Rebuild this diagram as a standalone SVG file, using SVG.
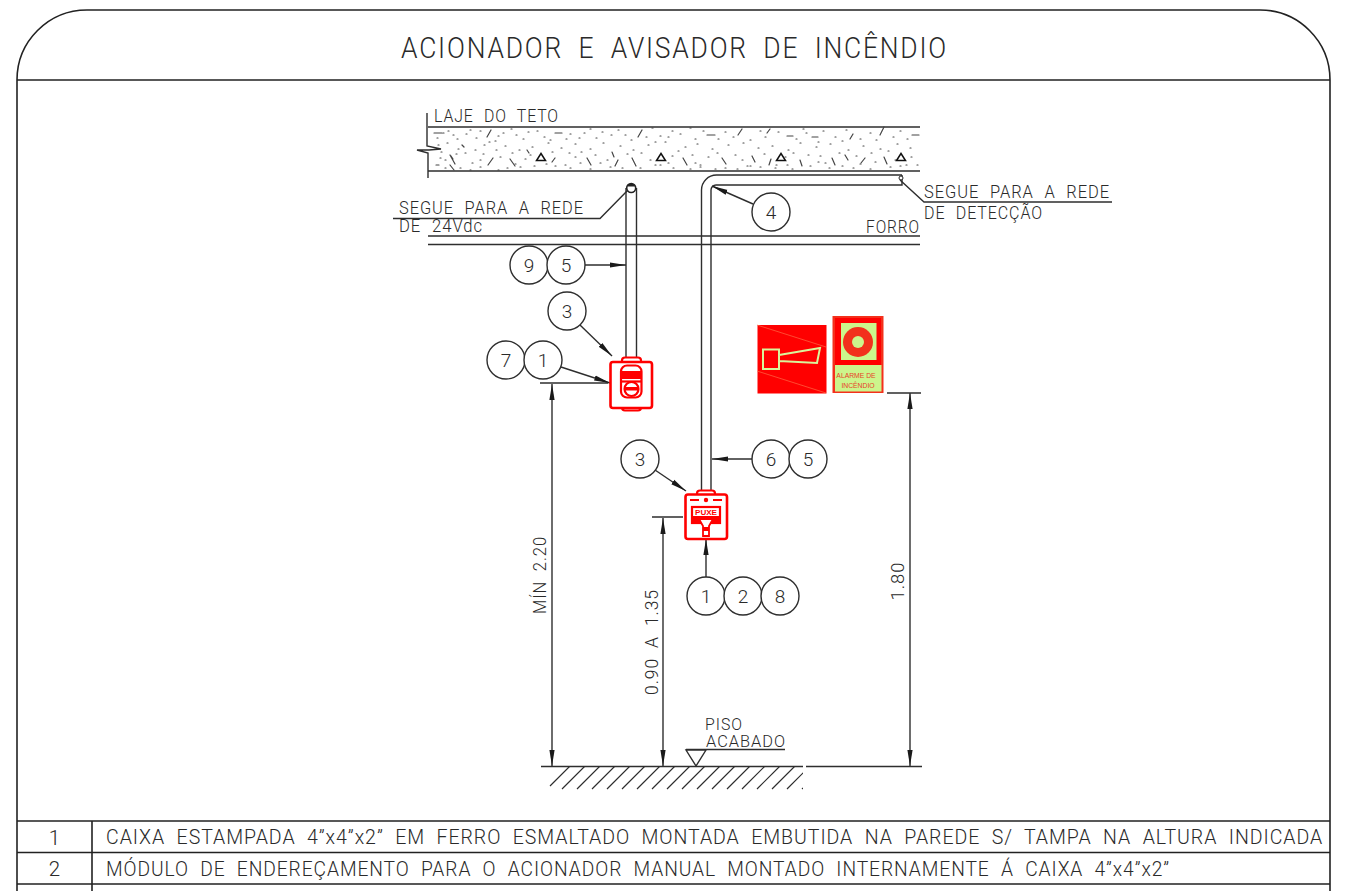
<svg xmlns="http://www.w3.org/2000/svg" width="1352" height="891" viewBox="0 0 1352 891">
<style>
text{font-family:"Roboto","Liberation Sans",Arial,sans-serif;font-weight:300;fill:#2a2a2a}
.l{fill:none;stroke:#2e2e2e;stroke-width:1.4}
.f{fill:none;stroke:#222;stroke-width:1.6}
.t{font-size:17.500px;letter-spacing:1px;word-spacing:6px}
.p{font-size:16.500px;letter-spacing:1px}
.d{font-size:18px;text-anchor:middle;letter-spacing:1px;word-spacing:5px}
.r{font-size:20.500px;letter-spacing:1px;word-spacing:6px}
.c{fill:#fff;stroke:#2e2e2e;stroke-width:1.4}
.n{font-size:19px;text-anchor:middle}
.red{fill:none;stroke:#f00;stroke-width:2.200}
.rf{fill:#f00}
.s{fill:none;stroke:#444;stroke-width:1.200;stroke-linecap:round}
</style>
<defs>
<marker id="a" markerUnits="userSpaceOnUse" markerWidth="18" markerHeight="8" refX="16" refY="4" orient="auto-start-reverse"><path d="M0 1.400L16 4L0 6.600Z" fill="#1a1a1a"/></marker>
<clipPath id="hc"><rect x="541" y="766" width="262" height="24"/></clipPath>
</defs>
<rect width="1352" height="891" fill="#fff"/>
<g id="frame">
<path class="f" d="M17 891V80A70 70 0 0 1 87 10H1260A70 70 0 0 1 1330 80V891M17 80H1330"/>
<text x="401" y="58" font-size="29.500" letter-spacing="2" word-spacing="8" textLength="547" lengthAdjust="spacingAndGlyphs">ACIONADOR E AVISADOR DE INCÊNDIO</text>
</g>
<g id="slab">
<path class="l" stroke-width="1.800" d="M428 127H920M428 171H920"/>
<path class="l" d="M427 113V146L441 149L429 150L417 150L428 153V178"/>
<path class="s" d="M434 133h8M443 133h1M453 135h1M470 130h1M480 131h1M491 130l-4 7M498 136h1M511 129h1M523 139h1M537 131h1M555 133h7M570 134h1M579 138h1M590 129h1M602 132h1M625 135h1M642 130l-4 7M652 128h1M660 136h1M672 131h1M690 128h1M707 135h8M725 132h1M742 129l-4 6M760 131h1M770 129l-3 4M787 136h6M806 133h1M812 137h6M823 131h1M846 130h1M853 134l-3 5M870 133h1M884 127l-4 8M900 131h1M912 135h7M438 145h1M447 143h1M458 149h1M462 145l2 2M475 150h1M489 142h1M505 146h1M519 150h1M532 147h1M548 143h1M561 148h1M575 144h1M590 149h1M603 143h1M620 146h1M633 150h1M648 145h1M665 142h1M685 147h1M697 144h1M712 149h1M728 145h1M743 143h1M758 148h1M772 146h1M788 150h1M800 143h1M816 147h1M830 144h1M848 150h1M863 146h1M880 149h1M897 144h1M910 148h1M445 160h1M451 156l2 3M450 165l4 5M450 155l5 9M480 160h1M488 165l5-7M500 157h1M510 159l5 7M527 150l2 3M555 158l-3 4M565 165h1M575 157h1M587 158l4 7M600 163h1M612 152l2 5M618 160l-3 6M632 158l4 8M650 160h1M672 156h1M683 158l4 7M695 163h1M700 165h1M722 158l4 6M742 160h1M752 156l3 6M771 159l-2 6M785 157h1M800 160l2 6M820 156h1M832 158l3 7M845 155l3 5M865 158l-4 5M875 162h1M884 157l3 7M895 160h1M911 157h1M917 165h1M436 165h3M445 168h1M470 170h1M498 170h1M507 168h1M520 167h1M555 166h1M570 168h1M590 169h1M610 167h1M640 168h1M673 168h1M700 167h1M715 169h1M737 169h1M750 166h1M775 168h1M792 169h1M810 166h1M829 168h1M853 168h1M870 169h1M890 167h1"/>
<path class="s" d="M437 138h1M448 131h1M457 139h1M466 134h1M476 138h1M484 145h1M495 141h1M503 133h1M516 135h1M528 132h1M544 137h1M550 140h1M566 139h1M584 133h1M596 138h1M611 135h1M618 130h1M631 140h1M646 137h1M655 142h1M668 137h1M680 134h1M695 139h1M703 131h1M718 139h1M733 137h1M750 140h1M765 137h1M778 132h1M796 139h1M803 129h1M818 142h1M835 137h1M842 141h1M860 139h1M876 140h1M893 137h1M907 139h1M441 152h1M456 154h1M465 153h1M472 163h1M483 154h1M496 150h1M512 153h1M525 159h1M534 166h1M552 152h1M569 153h1M581 152h1M595 155h1M607 160h1M627 154h1M641 153h1M655 165h1M668 163h1M678 151h1M692 155h1M708 157h1M717 153h1M735 155h1M747 166h1M764 154h1M776 165h1M793 153h1M808 155h1M825 163h1M839 153h1M856 156h1M871 153h1M888 151h1M906 165h1M440 158h1M460 168h1M480 167h1M515 164h1M530 155h1M546 164h1M580 163h1M622 168h1M660 165h1M690 169h1M725 168h1M760 167h1M787 165h1M818 162h1M842 166h1M860 164h1M900 166h1"/>
<path fill="none" stroke="#111" stroke-width="1.500" d="M541 153.500L545.500 160.500H536.500ZM661 153.500L665.500 160.500H656.500ZM781 153.500L785.500 160.500H776.500ZM901 153.500L905.500 160.500H896.500Z"/>
<text class="t" x="434" y="122" textLength="125" lengthAdjust="spacingAndGlyphs">LAJE DO TETO</text>
</g>
<g id="forro">
<path class="l" d="M428 236H920M428 244.500H920"/>
<text class="t" x="866" y="233" textLength="54" lengthAdjust="spacingAndGlyphs">FORRO</text>
</g>
<g id="conduits">
<path class="l" stroke-width="1.600" d="M626 188V358M636.500 188V358"/>
<circle cx="631.200" cy="188" r="4.500" fill="#fff" stroke="#222" stroke-width="1.600"/>
<path d="M627 186.500A4.500 4.500 0 0 1 635.500 186.500Z" fill="#222"/>
<path class="l" stroke-width="1.600" d="M701.500 491V190A15 15 0 0 1 716.500 175H902M711 491V190A5 5 0 0 1 716 185H902V175"/>
<circle cx="901" cy="178" r="2" fill="#fff" stroke="#222"/>
</g>
<g id="connectors">
<path class="l" d="M393 218.500H600L628 190"/>
<path class="l" d="M900 180L924 202H1112"/>
<path class="l" d="M686 749.500H785"/>
<path class="l" marker-end="url(#a)" d="M753 204L712 186"/>
<path class="l" marker-end="url(#a)" d="M585 265H626"/>
<path class="l" marker-end="url(#a)" d="M580 325L612 356"/>
<path class="l" marker-end="url(#a)" d="M561 367L610 383"/>
<path class="l" d="M540 383H608"/>
<path class="l" marker-end="url(#a)" d="M655 470L686 491"/>
<path class="l" marker-end="url(#a)" d="M752 459H712"/>
<path class="l" marker-end="url(#a)" d="M706 577V539"/>
<path class="l" marker-start="url(#a)" marker-end="url(#a)" d="M552 384V766"/>
<path class="l" marker-start="url(#a)" marker-end="url(#a)" d="M663 518V766"/>
<path class="l" marker-start="url(#a)" marker-end="url(#a)" d="M910 393V766"/>
<path class="l" d="M652 517H683M887 393H921"/>
</g>
<g id="ground">
<path class="l" stroke-width="1.600" d="M541 766.500H803M806 766.500H922"/>
<g clip-path="url(#hc)"><path fill="none" stroke="#2e2e2e" stroke-width="1.200" d="M550 786L570 766M562 789L585 766M577 789L600 766M592 789L615 766M607 789L630 766M622 789L645 766M637 789L660 766M652 789L675 766M667 789L690 766M682 789L705 766M697 789L720 766M712 789L735 766M727 789L750 766M742 789L765 766M757 789L780 766M772 789L795 766M787 789L810 766M802 789L803 788"/></g>
<path fill="#fff" stroke="#2e2e2e" stroke-width="1.400" d="M686 750H706L696 766Z"/>
<text class="p" x="705" y="730" textLength="38" lengthAdjust="spacingAndGlyphs">PISO</text>
<text class="p" x="706" y="747" textLength="80" lengthAdjust="spacingAndGlyphs">ACABADO</text>
</g>
<g id="labels">
<text class="t" x="399" y="214" textLength="185" lengthAdjust="spacingAndGlyphs">SEGUE PARA A REDE</text>
<text class="t" x="399" y="232" textLength="84" lengthAdjust="spacingAndGlyphs">DE 24Vdc</text>
<text class="t" x="924" y="198" textLength="186" lengthAdjust="spacingAndGlyphs">SEGUE PARA A REDE</text>
<text class="t" x="924" y="219" textLength="119" lengthAdjust="spacingAndGlyphs">DE DETECÇÃO</text>
<text class="d" transform="translate(546 575) rotate(-90)" textLength="78" lengthAdjust="spacingAndGlyphs">MÍN 2.20</text>
<text class="d" transform="translate(658 642) rotate(-90)" textLength="106" lengthAdjust="spacingAndGlyphs">0.90 A 1.35</text>
<text class="d" transform="translate(904 581) rotate(-90)" textLength="39" lengthAdjust="spacingAndGlyphs">1.80</text>
</g>
<g id="tag-4"><circle class="c" cx="771" cy="212" r="19"/><text class="n" x="771" y="218.500">4</text></g>
<g id="tag-9"><circle class="c" cx="529" cy="265" r="19"/><text class="n" x="529" y="271.500">9</text></g>
<g id="tag-5a"><circle class="c" cx="566" cy="265" r="19"/><text class="n" x="566" y="271.500">5</text></g>
<g id="tag-3a"><circle class="c" cx="567" cy="311" r="19"/><text class="n" x="567" y="317.500">3</text></g>
<g id="tag-7"><circle class="c" cx="506" cy="360" r="19"/><text class="n" x="506" y="366.500">7</text></g>
<g id="tag-1a"><circle class="c" cx="543" cy="360" r="19"/><text class="n" x="543" y="366.500">1</text></g>
<g id="tag-3b"><circle class="c" cx="640" cy="459" r="19"/><text class="n" x="640" y="465.500">3</text></g>
<g id="tag-6"><circle class="c" cx="771" cy="459" r="19"/><text class="n" x="771" y="465.500">6</text></g>
<g id="tag-5b"><circle class="c" cx="808" cy="459" r="19"/><text class="n" x="808" y="465.500">5</text></g>
<g id="tag-1b"><circle class="c" cx="706" cy="596" r="19"/><text class="n" x="706" y="602.500">1</text></g>
<g id="tag-2"><circle class="c" cx="743" cy="596" r="19"/><text class="n" x="743" y="602.500">2</text></g>
<g id="tag-8"><circle class="c" cx="780" cy="596" r="19"/><text class="n" x="780" y="602.500">8</text></g>
<g id="avisador">
<rect class="red" x="622" y="357.500" width="19" height="53" rx="3"/>
<rect x="610.500" y="362" width="41.500" height="46" rx="2.500" fill="#fff" stroke="#f00" stroke-width="2.600"/>
<rect class="red" stroke-width="1.800" x="621" y="365.500" width="20.500" height="32" rx="6"/>
<rect class="rf" x="621" y="371" width="20.500" height="8"/>
<path class="red" stroke-width="1.500" d="M622 381.500H641"/>
<circle class="red" stroke-width="1.800" cx="631.500" cy="389" r="7"/>
<rect class="rf" x="624.500" y="387" width="14" height="3.500"/>
</g>
<g id="acionador">
<rect class="red" x="697" y="490.500" width="18" height="8" rx="3"/>
<rect x="685.500" y="494.500" width="41.500" height="44.500" rx="2.500" fill="#fff" stroke="#f00" stroke-width="2.600"/>
<path class="red" stroke-width="2" d="M690 500H699M713 500H722"/>
<circle class="rf" cx="706" cy="500" r="2.200"/>
<rect class="red" stroke-width="1.800" x="692" y="507" width="28" height="16"/>
<rect class="rf" x="692" y="516" width="28" height="7"/>
<text x="695" y="515" font-size="8" textLength="22" lengthAdjust="spacingAndGlyphs" style="fill:#f00;font-weight:700;font-family:'Liberation Sans',sans-serif">PUXE</text>
<path d="M699 519H713L709 526V536H703V526Z" fill="#fff" stroke="#f00" stroke-width="1.800"/>
<rect class="rf" x="703" y="527" width="6" height="4"/>
</g>
<g id="placa-avisador">
<rect x="757.500" y="325" width="69" height="68.500" fill="#f00"/>
<path fill="none" stroke="#ff7a50" stroke-width="0.600" d="M757 325L826 347M757 371L826 393"/>
<path d="M763 349.500H779V369H763ZM779 355L820 348L817 363L779 361" fill="none" stroke="#d9f59b" stroke-width="2"/>
</g>
<g id="placa-alarme">
<rect x="832.500" y="316" width="51" height="77" fill="#f4301c"/>
<rect x="835" y="318" width="46" height="47" fill="#f00"/>
<rect x="835" y="365" width="46.500" height="26.500" fill="#ccf58c"/>
<rect x="841" y="323" width="35.500" height="37" fill="#ccf58c"/>
<circle cx="858" cy="342" r="15" fill="#f2301c"/>
<circle cx="858" cy="342" r="6" fill="#ccf58c"/>
<text x="856" y="378" font-size="6.800" text-anchor="middle" style="fill:#e8402a;font-family:'Liberation Sans',sans-serif;font-weight:400">ALARME DE</text>
<text x="858" y="388" font-size="6.800" text-anchor="middle" style="fill:#e8402a;font-family:'Liberation Sans',sans-serif;font-weight:400">INCÊNDIO</text>
</g>
<g id="table">
<path class="f" stroke-width="1.300" d="M17 821H1330M17 852.500H1330M17 884H1330M92 821V891"/>
<text class="r" x="55" y="845" text-anchor="middle">1</text>
<text class="r" x="55" y="876" text-anchor="middle">2</text>
<text class="r" transform="translate(106 844) scale(.87 1)" textLength="1399" lengthAdjust="spacingAndGlyphs">CAIXA ESTAMPADA 4”x4”x2” EM FERRO ESMALTADO MONTADA EMBUTIDA NA PAREDE S/ TAMPA NA ALTURA INDICADA</text>
<text class="r" transform="translate(106 876) scale(.87 1)" textLength="1223" lengthAdjust="spacingAndGlyphs">MÓDULO DE ENDEREÇAMENTO PARA O ACIONADOR MANUAL MONTADO INTERNAMENTE Á CAIXA 4”x4”x2”</text>
</g>
</svg>
